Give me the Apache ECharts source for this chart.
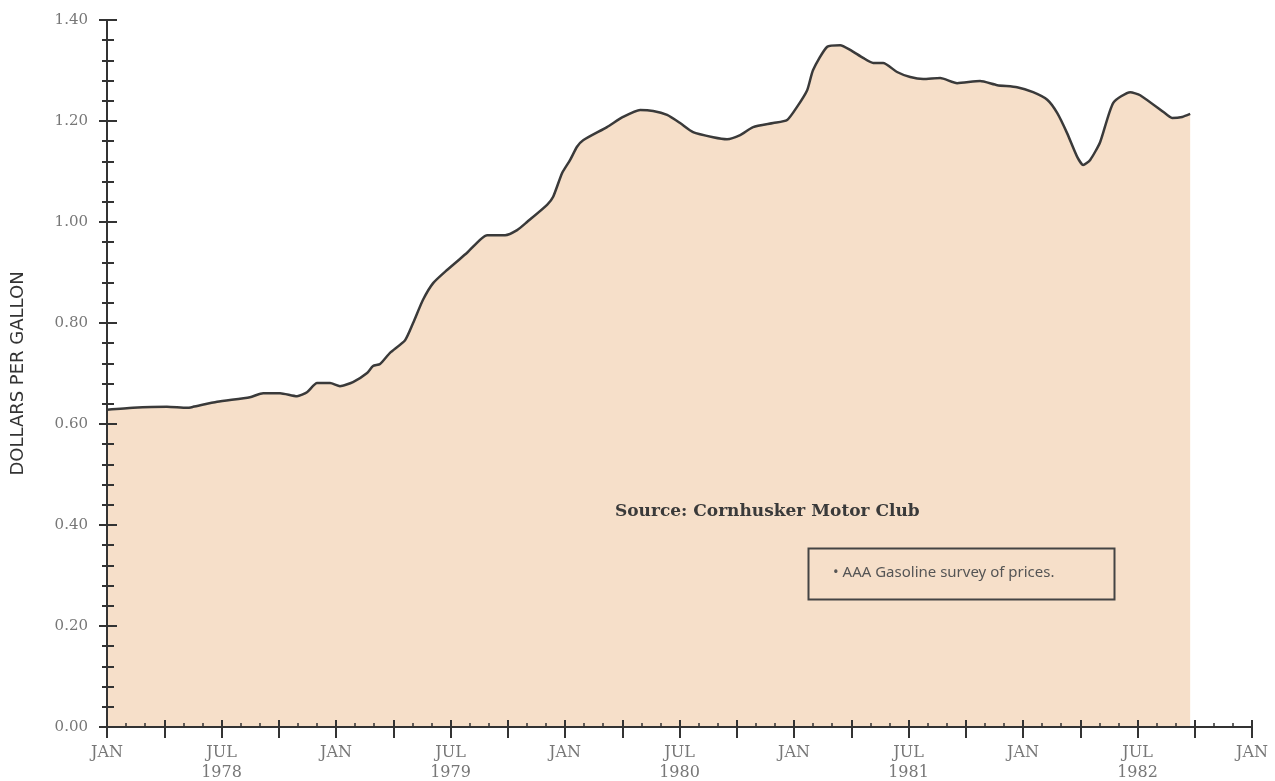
<!DOCTYPE html>
<html>
<head>
<meta charset="utf-8">
<script src="https://cdn.jsdelivr.net/npm/echarts@6/dist/echarts.min.js"></script>
<style>
  html, body { margin: 0; padding: 0; background: #fff; }
  #chart { width: 1275px; height: 781px; }
</style>
</head>
<body>
<div id="chart"></div>
<script>
// months since Jan 1978
const months = [
  0.00, 1.36, 3.14, 4.19, 4.51, 5.77, 7.49, 8.18, 9.07, 9.96,
  10.48, 11.01, 11.69, 12.21, 12.89, 13.63, 13.94, 14.31, 14.83, 15.62,
  16.04, 16.56, 17.09, 17.82, 18.87, 19.92, 20.86, 21.49, 22.01, 23.06,
  23.38, 23.85, 24.27, 24.63, 24.95, 26.20, 27.04, 27.94, 28.62, 29.35,
  30.03, 30.71, 31.76, 32.49, 33.18, 33.86, 34.91, 35.64, 36.16, 36.69,
  37.00, 37.74, 38.42, 38.94, 39.62, 40.15, 40.67, 41.40, 42.09, 42.77,
  43.66, 44.55, 45.75, 46.65, 47.69, 48.53, 49.27, 49.79, 50.31, 50.84,
  51.15, 51.52, 52.04, 52.73, 53.62, 54.14, 55.56, 55.82, 56.34, 56.76
];
// dollars per gallon
const prices = [
  0.628, 0.632, 0.634, 0.632, 0.634, 0.644, 0.653, 0.661, 0.661, 0.655,
  0.663, 0.681, 0.681, 0.675, 0.683, 0.701, 0.715, 0.719, 0.741, 0.766,
  0.800, 0.846, 0.879, 0.905, 0.939, 0.974, 0.974, 0.984, 1.000, 1.034,
  1.050, 1.097, 1.123, 1.149, 1.162, 1.188, 1.208, 1.222, 1.220, 1.212,
  1.196, 1.178, 1.168, 1.164, 1.172, 1.188, 1.196, 1.202, 1.228, 1.261,
  1.301, 1.347, 1.350, 1.341, 1.325, 1.315, 1.315, 1.297, 1.287, 1.283,
  1.285, 1.275, 1.279, 1.271, 1.267, 1.257, 1.242, 1.216, 1.176, 1.129,
  1.113, 1.123, 1.158, 1.236, 1.257, 1.251, 1.212, 1.206, 1.208, 1.214
];
// one label every six months
const xTickLabels = [
  'JAN', 'JUL\n1978', 'JAN', 'JUL\n1979', 'JAN', 'JUL\n1980',
  'JAN', 'JUL\n1981', 'JAN', 'JUL\n1982', 'JAN'
];

const axisColor = '#333';
const labelFont = { color: '#777', fontFamily: 'DejaVu Serif', fontSize: 15 };

const chart = echarts.init(document.getElementById('chart'));

chart.setOption({
  backgroundColor: '#fff',
  animation: false,
  grid: { left: 107, right: 23, top: 20, bottom: 54, outerBoundsMode: 'none', containLabel: false },
  xAxis: [
    {
      type: 'value', min: 0, max: 60, interval: 3, position: 'bottom', z: 5,
      axisLine: { show: true, lineStyle: { color: axisColor, width: 2 } },
      axisTick: { show: true, inside: true, length: 7, lineStyle: { color: axisColor, width: 2 } },
      minorTick: { show: true, splitNumber: 3, length: 4, lineStyle: { color: axisColor, width: 1.5 } },
      axisLabel: { show: false },
      splitLine: { show: false }
    },
    {
      type: 'value', min: 0, max: 60, interval: 3, position: 'bottom', z: 5,
      axisLine: { show: false },
      axisTick: { show: true, length: 11, lineStyle: { color: axisColor, width: 2 } },
      axisLabel: {
        ...labelFont, fontSize: 16, margin: 16, lineHeight: 20,
        formatter: v => (v % 6 === 0 ? xTickLabels[v / 6] : '')
      },
      splitLine: { show: false }
    }
  ],
  yAxis: [
    {
      type: 'value', min: 0, max: 1.4, interval: 0.2, position: 'left', z: 5,
      axisLine: { show: true, lineStyle: { color: axisColor, width: 2 } },
      axisTick: { show: true, inside: true, length: 10, lineStyle: { color: axisColor, width: 2 } },
      minorTick: { show: true, splitNumber: 5, length: 7, lineStyle: { color: axisColor, width: 2 } },
      axisLabel: { show: false },
      splitLine: { show: false }
    },
    {
      type: 'value', min: 0, max: 1.4, interval: 0.2, position: 'left', z: 5,
      axisLine: { show: false },
      axisTick: { show: true, length: 8, lineStyle: { color: axisColor, width: 2 } },
      minorTick: { show: true, splitNumber: 5, length: 5, lineStyle: { color: axisColor, width: 2 } },
      axisLabel: { ...labelFont, margin: 19, formatter: v => v.toFixed(2) },
      splitLine: { show: false },
      name: 'DOLLARS PER GALLON',
      nameLocation: 'middle',
      nameGap: 80,
      nameTextStyle: { color: '#333', fontFamily: 'DejaVu Sans', fontSize: 18 }
    }
  ],
  series: [{
    type: 'line',
    xAxisIndex: 0,
    yAxisIndex: 0,
    data: months.map((m, i) => [m, prices[i]]),
    smooth: 0.2,
    symbol: 'none',
    lineStyle: { color: '#3a3a3a', width: 2.5 },
    areaStyle: { color: '#f6dfc9', opacity: 1 },
    z: 2
  }],
  graphic: [
    {
      type: 'text', left: 615, top: 503, z: 10,
      style: { text: 'Source: Cornhusker Motor Club', font: 'bold 17px "DejaVu Serif"', fill: '#3a3a3a' }
    },
    {
      type: 'rect', left: 806, top: 546, z: 10,
      shape: { width: 306, height: 51 },
      style: { fill: 'none', stroke: '#444', lineWidth: 2 }
    },
    {
      type: 'text', left: 833, top: 565, z: 10,
      style: { text: '• AAA Gasoline survey of prices.', font: '15px "Noto Sans"', fill: '#555' }
    }
  ]
});

window.addEventListener('resize', () => chart.resize());
</script>
</body>
</html>
